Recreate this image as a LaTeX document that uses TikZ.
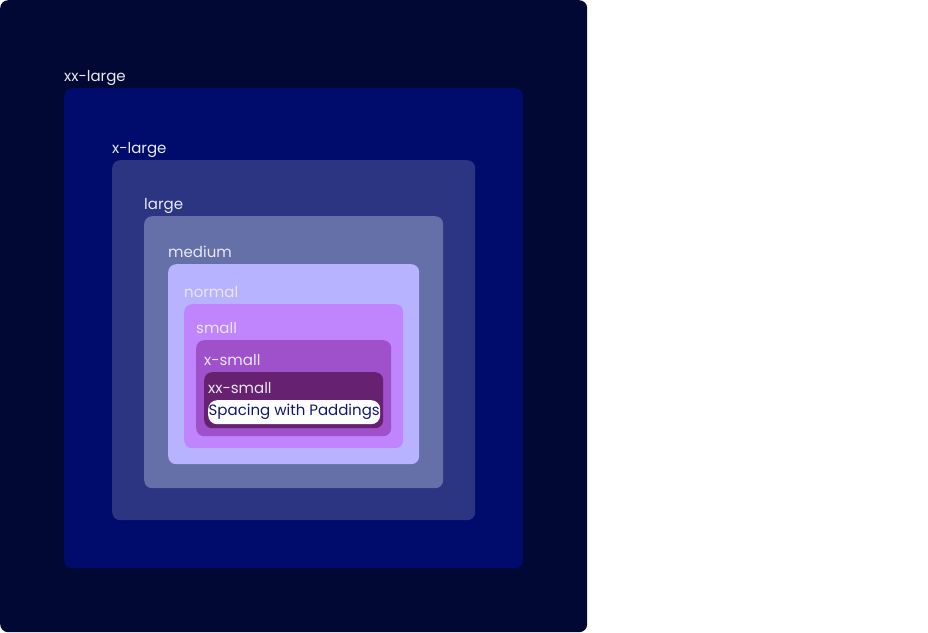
\documentclass[tikz,border=0pt]{standalone}
\usepackage{fontspec}
\setmainfont{Poppins}
\usetikzlibrary{positioning}

\definecolor{bgout}{HTML}{000833}
\definecolor{cxxl}{HTML}{000C6B}
\definecolor{cxl}{HTML}{2B3582}
\definecolor{clg}{HTML}{6570A8}
\definecolor{cmd}{HTML}{B8B3FF}
\definecolor{cnm}{HTML}{C084FC}
\definecolor{csm}{HTML}{9F50CB}
\definecolor{cxs}{HTML}{662270}
\definecolor{lbltext}{HTML}{E8E8F2}
\definecolor{navytext}{HTML}{0F1A6E}

\begin{document}
\begin{tikzpicture}[x=1pt,y=-1pt,
    box/.style = {anchor=north west, inner sep=0pt, rounded corners=8pt},
    lbl/.style = {anchor=base west, inner sep=0pt, text=lbltext, font=\fontsize{15}{18}\selectfont}]
        \fill[white] (0,0) rectangle (928,632);
        \useasboundingbox (0,0) rectangle (928,632);
        \node[box, fill=bgout, minimum width=587pt, minimum height=632pt] (out) at (0,0) {};
        % nested spacing boxes
        \node[box, fill=cxxl, minimum width=459pt, minimum height=480pt] (xxl) at (64,88) {};
        \node[box, fill=cxl, minimum width=363pt, minimum height=360pt] (xl) at (112,160) {};
        \node[box, fill=clg, minimum width=299pt, minimum height=272pt] (lg) at (144,216) {};
        \node[box, fill=cmd, minimum width=251pt, minimum height=200pt] (md) at (168,264) {};
        \node[box, fill=cnm, minimum width=219pt, minimum height=144pt] (nm) at (184,304) {};
        \node[box, fill=csm, minimum width=195pt, minimum height=96pt] (sm) at (196,340) {};
        \node[box, fill=cxs, minimum width=179pt, minimum height=56pt] (xs) at (204,372) {};
        \node[box, fill=white, minimum width=172pt, minimum height=24pt, rounded corners=9pt,
              text=navytext, font=\fontsize{15}{18}\selectfont] (pad) at (208,400) {Spacing with Paddings};
        % labels
        \node[lbl] (lxxl) at ([yshift=7pt]xxl.north west) {xx-large};
        \node[lbl] (lxl) at ([yshift=7pt]xl.north west) {x-large};
        \node[lbl] (llg) at ([yshift=7pt]lg.north west) {large};
        \node[lbl] (lmd) at ([yshift=7pt]md.north west) {medium};
        \node[lbl] (lnm) at ([yshift=7pt]nm.north west) {normal};
        \node[lbl] (lsm) at ([yshift=7pt]sm.north west) {small};
        \node[lbl] (lxs) at ([yshift=7pt]xs.north west) {x-small};
        \node[lbl] (lxxs) at ([yshift=7pt]pad.north west) {xx-small};
\end{tikzpicture}
\end{document}
